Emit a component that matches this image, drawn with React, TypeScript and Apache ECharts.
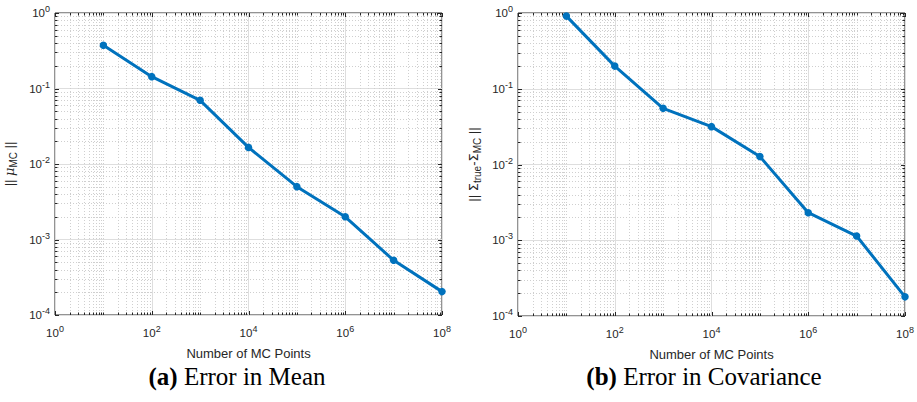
import React, { useEffect, useRef } from 'react';
import * as echarts from 'echarts';

// ---- data ----
const mcPoints = [1e1, 1e2, 1e3, 1e4, 1e5, 1e6, 1e7, 1e8];
const meanError = [0.373, 0.1435, 0.0697, 0.0166, 0.00501, 0.002, 0.00053, 0.000204];
const covError = [0.91, 0.199, 0.0552, 0.0316, 0.01276, 0.00231, 0.001137, 0.000179];
const xAxisTitle = 'Number of MC Points';
const captionA = ['(a)', 'Error in Mean'];
const captionB = ['(b)', 'Error in Covariance'];

const X_MIN = 1;
const X_MAX = 1e8;
const Y_MIN = 1e-4;
const Y_MAX = 1;

// tick structure (decades)
const xDecades = [0, 1, 2, 3, 4, 5, 6, 7, 8];
const yDecades = [-4, -3, -2, -1, 0];
const minorMultipliers = [2, 3, 4, 5, 6, 7, 8, 9];

const INK = '#262626';
const BLUE = '#0072BD';
const MAJOR_GRID = '#dedede';
const MINOR_GRID = '#cfcfcf';
const SANS = '"Liberation Sans", Arial, Helvetica, sans-serif';
const SERIF = '"Liberation Serif", "Times New Roman", serif';

function xTicks() {
  const out: number[][] = [];
  xDecades.forEach((d) => {
    out.push([Math.pow(10, d), Y_MIN, d % 2 === 0 ? 1 : 0]);
    if (d < 8) minorMultipliers.forEach((k) => out.push([k * Math.pow(10, d), Y_MIN, 0]));
  });
  return out;
}
function yTicks() {
  const out: number[][] = [];
  yDecades.forEach((d) => {
    out.push([X_MIN, Math.pow(10, d), 1]);
    if (d < 0) minorMultipliers.forEach((k) => out.push([X_MIN, k * Math.pow(10, d), 0]));
  });
  return out;
}

const crisp = (v: number) => Math.round(v) + 0.5;

function xTickSeries(idx: number) {
  return {
    type: 'custom',
    xAxisIndex: idx,
    yAxisIndex: idx,
    silent: true,
    z: 1,
    data: xTicks(),
    renderItem: (params: any, api: any) => {
      const cs = params.coordSys;
      const px = crisp(api.coord([api.value(0), Y_MIN])[0]);
      const major = api.value(2) === 1;
      const len = major ? 4 : 2.5;
      const bottom = cs.y + cs.height;
      const children: any[] = [];
      if (!major) {
        children.push({
          type: 'line',
          shape: { x1: px, y1: cs.y, x2: px, y2: bottom },
          style: { stroke: MINOR_GRID, lineWidth: 1, lineDash: [1, 2] },
        });
      }
      children.push({ type: 'line', shape: { x1: px, y1: bottom, x2: px, y2: bottom - len }, style: { stroke: INK, lineWidth: 1 } });
      children.push({ type: 'line', shape: { x1: px, y1: cs.y, x2: px, y2: cs.y + len }, style: { stroke: INK, lineWidth: 1 } });
      return { type: 'group', children };
    },
  };
}

function yTickSeries(idx: number) {
  return {
    type: 'custom',
    xAxisIndex: idx,
    yAxisIndex: idx,
    silent: true,
    z: 1,
    data: yTicks(),
    renderItem: (params: any, api: any) => {
      const cs = params.coordSys;
      const py = crisp(api.coord([X_MIN, api.value(1)])[1]);
      const major = api.value(2) === 1;
      const len = major ? 4 : 2.5;
      const right = cs.x + cs.width;
      const children: any[] = [];
      if (!major) {
        children.push({
          type: 'line',
          shape: { x1: cs.x, y1: py, x2: right, y2: py },
          style: { stroke: MINOR_GRID, lineWidth: 1, lineDash: [1, 2] },
        });
      }
      children.push({ type: 'line', shape: { x1: cs.x, y1: py, x2: cs.x + len, y2: py }, style: { stroke: INK, lineWidth: 1 } });
      children.push({ type: 'line', shape: { x1: right, y1: py, x2: right - len, y2: py }, style: { stroke: INK, lineWidth: 1 } });
      return { type: 'group', children };
    },
  };
}

const powLabel = (v: number) => `10{sup|${Math.round(Math.log10(v))}}`;

const supRich = { fontSize: 9, lineHeight: 9, verticalAlign: 'top', fontFamily: SANS, color: INK };

function makeXAxis(idx: number) {
  return {
    type: 'log',
    logBase: 10,
    gridIndex: idx,
    min: X_MIN,
    max: X_MAX,
    interval: 2,
    splitNumber: 4,
    name: xAxisTitle,
    nameLocation: 'middle',
    nameGap: 32,
    nameTextStyle: { fontFamily: SANS, fontSize: 13, color: INK },
    axisLine: { show: false },
    axisTick: { show: false },
    splitLine: { show: true, lineStyle: { color: MAJOR_GRID, width: 1 } },
    axisLabel: {
      margin: 9,
      fontFamily: SANS,
      fontSize: 11.5,
      lineHeight: 17,
      color: INK,
      showMinLabel: true,
      showMaxLabel: true,
      formatter: powLabel,
      rich: { sup: supRich },
    },
  };
}

function makeYAxis(idx: number, nameText: string, gap: number) {
  const base = { fontSize: 13, lineHeight: 15, verticalAlign: 'top', fontFamily: SANS, color: INK };
  return {
    type: 'log',
    logBase: 10,
    gridIndex: idx,
    min: Y_MIN,
    max: Y_MAX,
    interval: 1,
    splitNumber: 4,
    name: nameText,
    nameLocation: 'middle',
    nameGap: gap,
    nameRotate: 90,
    nameTextStyle: {
      fontFamily: SANS,
      fontSize: 13,
      color: INK,
      lineHeight: 19,
      rich: {
        b: base,
        g: { ...base, fontFamily: '"DejaVu Sans", sans-serif' },
        m: { ...base, fontStyle: 'italic', fontFamily: '"DejaVu Serif", serif' },
        sub: { fontSize: 10, lineHeight: 10, verticalAlign: 'bottom', fontFamily: SANS, color: INK },
      },
    },
    axisLine: { show: false },
    axisTick: { show: false },
    splitLine: { show: true, lineStyle: { color: MAJOR_GRID, width: 1 } },
    axisLabel: {
      margin: 5,
      fontFamily: SANS,
      fontSize: 11.5,
      lineHeight: 17,
      color: INK,
      showMinLabel: true,
      showMaxLabel: true,
      formatter: powLabel,
      rich: { sup: supRich },
    },
  };
}

function lineSeries(idx: number, values: number[]) {
  return {
    type: 'line',
    xAxisIndex: idx,
    yAxisIndex: idx,
    z: 10,
    data: mcPoints.map((x, i) => [x, values[i]]),
    symbol: 'circle',
    symbolSize: 7.5,
    lineStyle: { color: BLUE, width: 3 },
    itemStyle: { color: BLUE },
    silent: true,
  };
}

function caption(x: number, parts: string[]) {
  return {
    type: 'text',
    x,
    y: 376,
    style: {
      text: `{b|${parts[0]}} ${parts[1]}`,
      fontFamily: SERIF,
      fontSize: 25,
      fill: '#000',
      align: 'center',
      verticalAlign: 'middle',
      rich: { b: { fontFamily: SERIF, fontSize: 25, fontWeight: 'bold' } },
    },
  };
}

export default function App() {
  const ref = useRef<HTMLDivElement>(null);
  useEffect(() => {
    document.body.style.margin = '0';
    if (!ref.current) return;
    const chart = echarts.init(ref.current, undefined, { renderer: 'svg' });
    const gridStyle = { show: true, borderColor: INK, borderWidth: 1, backgroundColor: '#fff' };
    chart.setOption({
      animation: false,
      backgroundColor: '#fff',
      grid: [
        { left: 55, top: 13, width: 387, height: 302, ...gridStyle },
        { left: 518, top: 13, width: 387, height: 303, ...gridStyle },
      ],
      xAxis: [makeXAxis(0), makeXAxis(1)],
      yAxis: [
        makeYAxis(0, '{b||| }{m|μ}{sub|MC}{b| ||}', 37),
        makeYAxis(1, '{b||| }{g|Σ}{sub|true}{b|-}{g|Σ}{sub|MC}{b| ||}', 36),
      ],
      series: [
        xTickSeries(0),
        yTickSeries(0),
        xTickSeries(1),
        yTickSeries(1),
        lineSeries(0, meanError),
        lineSeries(1, covError),
      ],
      graphic: [caption(237, captionA), caption(704, captionB)],
    });
    return () => chart.dispose();
  }, []);
  return <div ref={ref} style={{ width: 917, height: 402 }} />;
}
